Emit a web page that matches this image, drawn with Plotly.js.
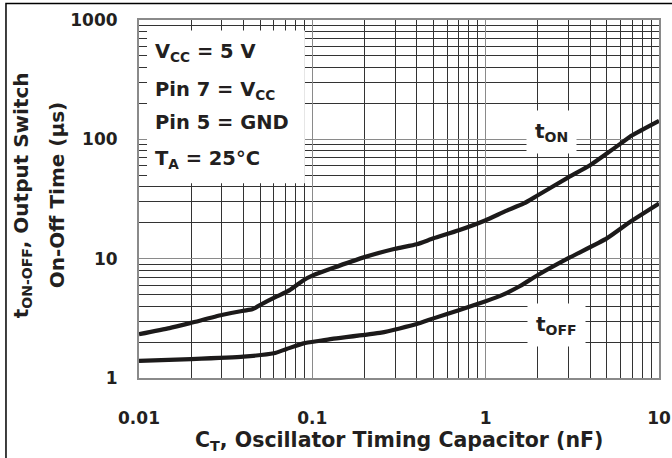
<!DOCTYPE html>
<html><head><meta charset="utf-8">
<script src="https://cdn.plot.ly/plotly-3.0.1.min.js"></script>
<style>html,body{margin:0;padding:0;background:#fff}#chart{width:672px;height:458px}</style>
</head><body><div id="chart"></div>
<script>
// t_ON curve (µs) vs C_T (nF)
const capOn = [0.01, 0.015, 0.02, 0.03, 0.04, 0.045, 0.052, 0.062, 0.074, 0.089, 0.1, 0.13, 0.2, 0.3, 0.4, 0.5, 0.7, 1, 1.3, 1.66, 2, 3, 4, 5, 6, 7, 10];
const tOn = [2.33, 2.62, 2.9, 3.37, 3.66, 3.76, 4.22, 4.8, 5.45, 6.6, 7.2, 8.3, 10.3, 12.1, 13.2, 14.8, 17.3, 21, 25, 29, 34, 48, 60.6, 76, 92, 108, 143];
// t_OFF curve (µs) vs C_T (nF)
const capOff = [0.01, 0.02, 0.04, 0.06, 0.071, 0.089, 0.11, 0.13, 0.25, 0.4, 0.5, 0.7, 1, 1.26, 1.58, 2, 3, 5, 6.8, 10];
const tOff = [1.39, 1.44, 1.51, 1.61, 1.75, 1.95, 2.05, 2.13, 2.4, 2.83, 3.16, 3.7, 4.4, 5.0, 5.9, 7.3, 10.1, 14.8, 20.3, 29];

const xTickVals = [0.01, 0.1, 1, 10];
const xTickText = ['0.01', '0.1', '1', '10'];
const xMinorVals = [0.02,0.03,0.04,0.05,0.06,0.07,0.08,0.09,0.2,0.3,0.4,0.5,0.6,0.7,0.8,0.9,2,3,4,5,6,7,8,9];
const yTickVals = [1, 10, 100, 1000];
const yTickText = ['1', '10', '100', '1000'];
const yMinorVals = [2,3,4,5,6,7,8,9,20,30,40,50,60,70,80,90,200,300,400,500,600,700,800,900];

const conditionLines = ['V<sub>CC</sub> = 5 V', 'Pin 7 = V<sub>CC</sub>', 'Pin 5 = GND', 'T<sub>A</sub> = 25°C'];
const curveLabels = ['t<sub>ON</sub>', 't<sub>OFF</sub>'];
const xTitle = 'C<sub>T</sub>, Oscillator Timing Capacitor (nF)';
const yTitleLines = ['t<sub>ON-OFF</sub>, Output Switch', 'On-Off Time (µs)'];

const FONT = 'DejaVu Sans, Liberation Sans, Arial, sans-serif';
const INK = '#231f20';
const lineStyle = {color: '#1c1a1a', width: 4.2, shape: 'spline', smoothing: 0.5};

const traces = [
  {x: capOn, y: tOn, type: 'scatter', mode: 'lines', name: 'tON', line: lineStyle, hoverinfo: 'skip'},
  {x: capOff, y: tOff, type: 'scatter', mode: 'lines', name: 'tOFF', line: lineStyle, hoverinfo: 'skip'}
];

const axisCommon = {
  type: 'log', showgrid: true, gridcolor: '#8a8a8a', gridwidth: 1,
  showline: true, mirror: true, linecolor: '#8a8a8a', linewidth: 2,
  ticks: '', zeroline: false, tickmode: 'array',
  tickfont: {family: FONT, size: 17, weight: 'bold', color: INK}
};

const layout = {
  width: 672, height: 458,
  margin: {l: 139, r: 13, t: 20, b: 80},
  paper_bgcolor: '#fff', plot_bgcolor: '#fff',
  showlegend: false,
  xaxis: Object.assign({}, axisCommon, {
    range: [-2, 1], tickvals: xTickVals, ticktext: xTickText, ticklabelstandoff: 24,
    minor: {tickmode: 'array', tickvals: xMinorVals, showgrid: true, gridcolor: '#333', gridwidth: 1, ticks: ''}
  }),
  yaxis: Object.assign({}, axisCommon, {
    range: [0, 3], tickvals: yTickVals, ticktext: yTickText, ticklabelstandoff: 16,
    minor: {tickmode: 'array', tickvals: yMinorVals, showgrid: true, gridcolor: '#333', gridwidth: 1, ticks: ''}
  }),
  shapes: [
    {type: 'rect', xref: 'paper', yref: 'paper', x0: 0.0154, x1: 0.319, y0: 0.544, y1: 0.971,
     fillcolor: '#fff', line: {width: 0}, layer: 'above'},
    {type: 'rect', xref: 'paper', yref: 'paper', x0: -0.2558, x1: 1.2, y0: -0.4, y1: 1.046,
     fillcolor: 'rgba(0,0,0,0)', line: {color: '#000', width: 1.5}}
  ],
  annotations: []
};

const condY = [0.9093, 0.8019, 0.7141, 0.6109];
conditionLines.forEach((t, i) => {
  layout.annotations.push({text: t, xref: 'paper', yref: 'paper', x: 0.027, y: condY[i],
    xanchor: 'left', yanchor: 'middle', showarrow: false,
    font: {family: FONT, size: 19.5, weight: 'bold', color: INK}});
});

const labelPos = [[0.794, 0.686], [0.802, 0.148]];
curveLabels.forEach((t, i) => {
  layout.annotations.push({text: t, xref: 'paper', yref: 'paper', x: labelPos[i][0], y: labelPos[i][1],
    xanchor: 'center', yanchor: 'middle', showarrow: false, bgcolor: '#fff', borderpad: 8,
    font: {family: FONT, size: 20, weight: 'bold', color: INK}});
});

layout.annotations.push({text: xTitle, xref: 'paper', yref: 'paper', x: 0.5, y: (378 - 441) / 358.5,
  xanchor: 'center', yanchor: 'middle', showarrow: false,
  font: {family: FONT, size: 20.5, weight: 'bold', color: INK}});

const yTitleX = [(22 - 139) / 520, (57 - 139) / 520];
yTitleLines.forEach((t, i) => {
  layout.annotations.push({text: t, xref: 'paper', yref: 'paper', x: yTitleX[i], y: (378 - 195) / 358.5,
    xanchor: 'center', yanchor: 'middle', textangle: -90, showarrow: false,
    font: {family: FONT, size: 20, weight: 'bold', color: INK}});
});

Plotly.newPlot('chart', traces, layout, {staticPlot: true, displayModeBar: false});
</script>
</body></html>
